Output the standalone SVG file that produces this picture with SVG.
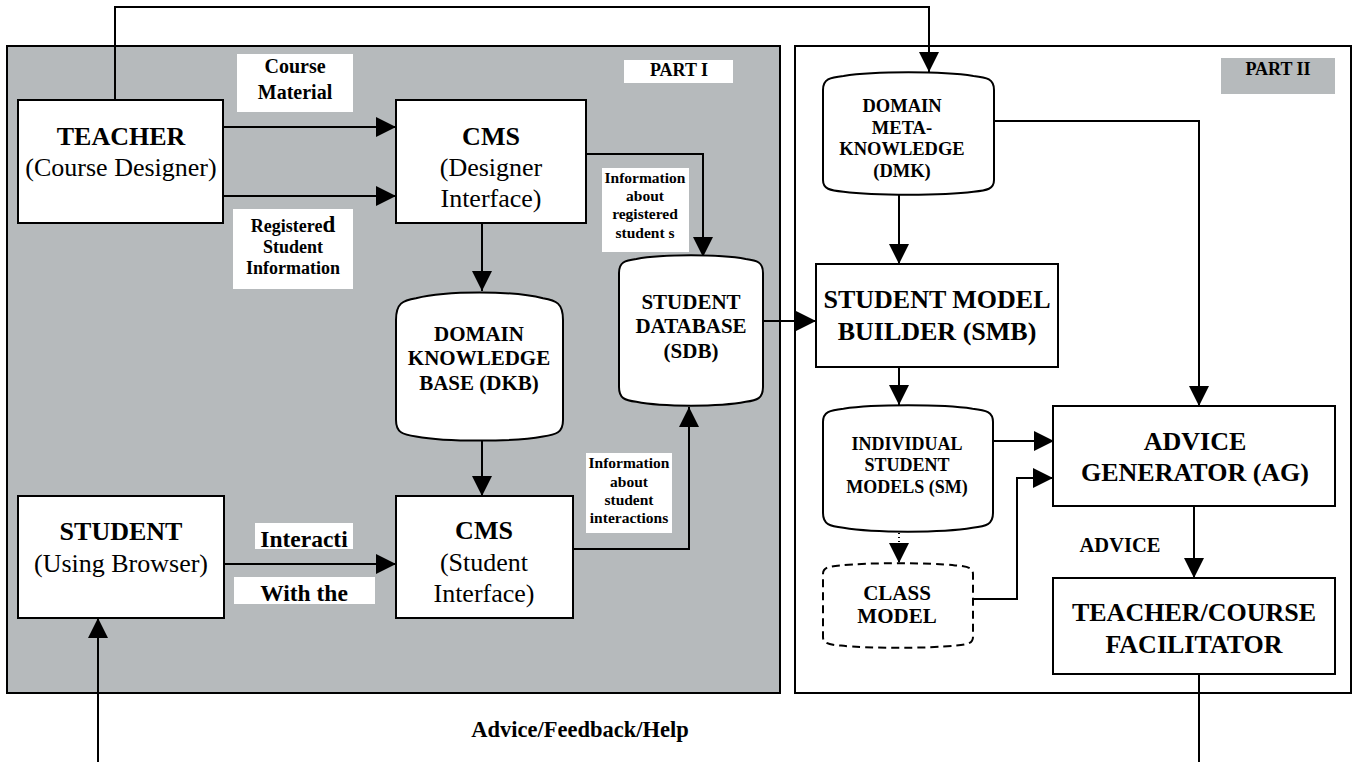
<svg xmlns="http://www.w3.org/2000/svg" width="1355" height="762" viewBox="0 0 1355 762">
<style>
text{font-family:"Liberation Serif","Times New Roman",serif;fill:#000;text-anchor:middle}
.b{font-weight:bold}
.node{fill:#fff;stroke:#000;stroke-width:2}
.lbl{fill:#fff;stroke:none}
.c{fill:none;stroke:#000;stroke-width:2}
.f26{font-size:26px}
.f21{font-size:21px}
</style>
<defs>
<marker id="ah" markerUnits="userSpaceOnUse" markerWidth="20" markerHeight="20" refX="20" refY="10" orient="auto">
<path d="M0,0 L20,10 L0,20 z" fill="#000"/>
</marker>
</defs>

<g id="part1">
<rect x="7" y="46" width="773" height="647" fill="#b6babc" stroke="#000" stroke-width="2"/>
<rect x="624" y="60" width="109" height="23" class="lbl"/>
<text x="679" y="76" class="b" font-size="18">PART I</text>
</g>
<g id="part2">
<rect x="795" y="46" width="556" height="647" fill="#fff" stroke="#000" stroke-width="2"/>
<rect x="1221" y="58" width="114" height="36" fill="#b6babc"/>
<text x="1278" y="75" class="b" font-size="18">PART II</text>
</g>

<g id="labels">
<rect x="237" y="54" width="116" height="58" class="lbl"/>
<text x="295" y="73" class="b" font-size="20">Course</text>
<text x="295" y="99" class="b" font-size="20">Material</text>
<rect x="233" y="209" width="120" height="80" class="lbl"/>
<text x="293" y="232" class="b" font-size="18">Registere<tspan font-size="23">d</tspan></text>
<text x="293" y="253" class="b" font-size="18">Student</text>
<text x="293" y="274" class="b" font-size="18">Information</text>
<rect x="602" y="168" width="87" height="84" class="lbl"/>
<text x="645" y="183" class="b" font-size="15.5">Information</text>
<text x="645" y="201" class="b" font-size="15.5">about</text>
<text x="645" y="219" class="b" font-size="15.5">registered</text>
<text x="645" y="238" class="b" font-size="15.5">student s</text>
<rect x="586" y="453" width="86" height="80" class="lbl"/>
<text x="629" y="468" class="b" font-size="15.5">Information</text>
<text x="629" y="487" class="b" font-size="15.5">about</text>
<text x="629" y="505" class="b" font-size="15.5">student</text>
<text x="629" y="523" class="b" font-size="15.5">interactions</text>
<rect x="255" y="523" width="98" height="26" class="lbl"/>
<text x="304" y="547" class="b" font-size="23.5">Interacti</text>
<rect x="234" y="577" width="141" height="27" class="lbl"/>
<text x="304" y="601" class="b" font-size="23.5">With the</text>
<text x="580" y="737" class="b" font-size="22.5">Advice/Feedback/Help</text>
<text x="1120" y="552" class="b" font-size="20.5">ADVICE</text>
</g>

<g id="connectors">
<path class="c" d="M115,100 V7 H929 V72" marker-end="url(#ah)"/>
<path class="c" d="M223,127 H396" marker-end="url(#ah)"/>
<path class="c" d="M223,196 H396" marker-end="url(#ah)"/>
<path class="c" d="M586,154 H703 V257" marker-end="url(#ah)"/>
<path class="c" d="M482,223 V291" marker-end="url(#ah)"/>
<path class="c" d="M482,441 V496" marker-end="url(#ah)"/>
<path class="c" d="M224,564 H396" marker-end="url(#ah)"/>
<path class="c" d="M573,549 H689 V407" marker-end="url(#ah)"/>
<path class="c" d="M763,321 H816" marker-end="url(#ah)"/>
<path class="c" d="M899,195 V264" marker-end="url(#ah)"/>
<path class="c" d="M994,121 H1199 V406" marker-end="url(#ah)"/>
<path class="c" d="M899,367 V405" marker-end="url(#ah)"/>
<path class="c" d="M993,441 H1054" marker-end="url(#ah)"/>
<path class="c" d="M973,599 H1017 V478 H1053" marker-end="url(#ah)"/>
<path class="c" d="M899,533 V563" stroke-dasharray="1 3" marker-end="url(#ah)"/>
<path class="c" d="M1194,506 V578" marker-end="url(#ah)"/>
<path class="c" d="M1199,674 V762"/>
<path class="c" d="M98,762 V618" marker-end="url(#ah)"/>
</g>

<g id="teacher">
<rect x="18" y="100" width="205" height="123" class="node"/>
<text x="121" y="145" class="b f26">TEACHER</text>
<text x="121" y="176" class="f26">(Course Designer)</text>
</g>
<g id="cms-designer">
<rect x="396" y="100" width="190" height="123" class="node"/>
<text x="491" y="145" class="b f26">CMS</text>
<text x="491" y="176" class="f26">(Designer</text>
<text x="491" y="207" class="f26">Interface)</text>
</g>
<g id="dkb">
<path class="node" d="M396,320 C396,303.2 402.7,300.4 416,298.2 C446.1,290.6 512.9,290.6 543,298.2 C556.3,300.4 563,303.2 563,320 L563,420 C563,432.6 556.3,434.7 543,436.4 C512.9,442 446.1,442 416,436.4 C402.7,434.7 396,432.6 396,420 Z"/>
<text x="479" y="341" class="b f21">DOMAIN</text>
<text x="479" y="365" class="b f21">KNOWLEDGE</text>
<text x="479" y="390" class="b f21">BASE (DKB)</text>
</g>
<g id="sdb">
<path class="node" d="M619,273 C619,262.2 624.8,260.4 636.3,259 C662.2,254.1 719.8,254.1 745.7,259 C757.2,260.4 763,262.2 763,273 L763,387 C763,398.4 757.2,400.3 745.7,401.8 C719.8,407 662.2,407 636.3,401.8 C624.8,400.3 619,398.4 619,387 Z"/>
<text x="691" y="309" class="b f21">STUDENT</text>
<text x="691" y="333" class="b f21">DATABASE</text>
<text x="691" y="358" class="b f21">(SDB)</text>
</g>
<g id="student">
<rect x="18" y="496" width="206" height="122" class="node"/>
<text x="121" y="540" class="b f26">STUDENT</text>
<text x="121" y="572" class="f26">(Using Browser)</text>
</g>
<g id="cms-student">
<rect x="396" y="496" width="177" height="122" class="node"/>
<text x="484" y="539" class="b f26">CMS</text>
<text x="484" y="571" class="f26">(Student</text>
<text x="484" y="602" class="f26">Interface)</text>
</g>
<g id="dmk">
<path class="node" d="M823,90 C823,79.2 829.8,77.4 843.5,76 C874.3,71.1 942.7,71.1 973.5,76 C987.2,77.4 994,79.2 994,90 L994,180 C994,189 987.2,190.5 973.5,191.7 C942.7,195.75 874.3,195.75 843.5,191.7 C829.8,190.5 823,189 823,180 Z"/>
<text x="902" y="112" class="b" font-size="18.5">DOMAIN</text>
<text x="902" y="133.5" class="b" font-size="18.5">META-</text>
<text x="902" y="155" class="b" font-size="18.5">KNOWLEDGE</text>
<text x="902" y="176.5" class="b" font-size="18.5">(DMK)</text>
</g>
<g id="smb">
<rect x="816" y="264" width="242" height="103" class="node"/>
<text x="937" y="308" class="b f26">STUDENT MODEL</text>
<text x="937" y="340" class="b f26">BUILDER (SMB)</text>
</g>
<g id="ism">
<path class="node" d="M823,422 C823,411.8 829.8,410.1 843.4,408.7 C874,404.15 942,404.15 972.6,408.7 C986.2,410.1 993,411.8 993,422 L993,513 C993,524.4 986.2,526.3 972.6,527.8 C942,533 874,533 843.4,527.8 C829.8,526.3 823,524.4 823,513 Z"/>
<text x="907" y="450" class="b" font-size="18">INDIVIDUAL</text>
<text x="907" y="471" class="b" font-size="18">STUDENT</text>
<text x="907" y="493" class="b" font-size="18">MODELS (SM)</text>
</g>
<g id="class-model">
<path class="node" stroke-dasharray="8 5" d="M823,574 C823,567.4 829,566.3 841,565.4 C868,562.45 928,562.45 955,565.4 C967,566.3 973,567.4 973,574 L973,637 C973,643.6 967,644.7 955,645.6 C928,648.55 868,648.55 841,645.6 C829,644.7 823,643.6 823,637 Z"/>
<text x="897" y="600" class="b f21">CLASS</text>
<text x="897" y="623" class="b f21">MODEL</text>
</g>
<g id="ag">
<rect x="1053" y="406" width="282" height="100" class="node"/>
<text x="1195" y="450" class="b f26">ADVICE</text>
<text x="1195" y="481" class="b f26">GENERATOR (AG)</text>
</g>
<g id="tcf">
<rect x="1053" y="578" width="282" height="96" class="node"/>
<text x="1194" y="621" class="b f26">TEACHER/COURSE</text>
<text x="1194" y="653" class="b f26">FACILITATOR</text>
</g>
</svg>
